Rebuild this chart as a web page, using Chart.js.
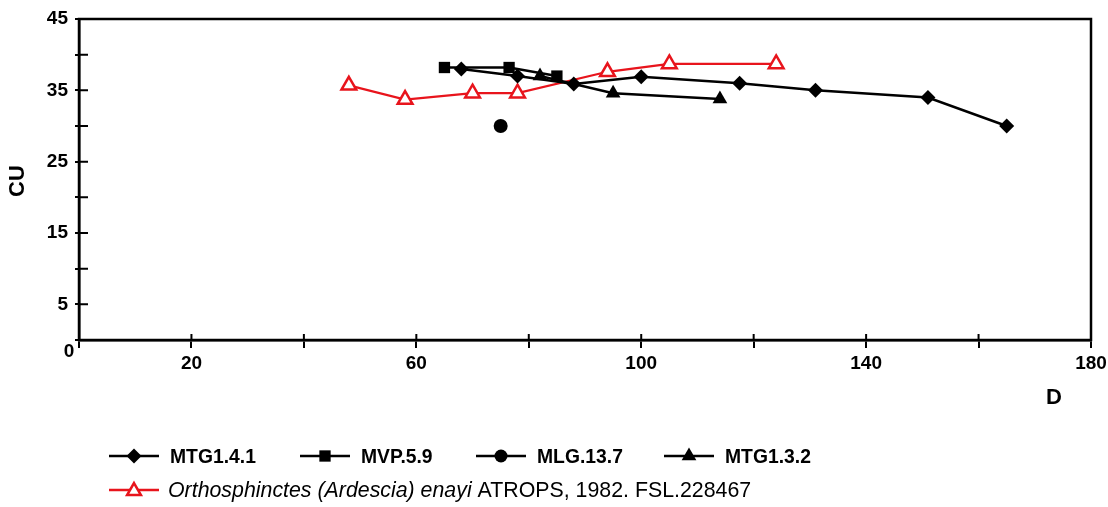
<!DOCTYPE html>
<html>
<head>
<meta charset="utf-8">
<script src="https://cdn.jsdelivr.net/npm/chart.js@4/dist/chart.umd.min.js"></script>
<style>
  html, body { margin: 0; padding: 0; background: #fff; }
  canvas { display: block; }
</style>
</head>
<body>
<canvas id="chart" width="1108" height="507"></canvas>
<script>
// values (D = diameter, CU = coiling)
const mtg141D = [68, 78, 88, 100, 117.5, 131, 151, 165];
const mtg141CU = [38, 37, 35.9, 36.9, 36, 35, 34, 30];
const mvpD = [65, 76.5, 85];
const mvpCU = [38.2, 38.2, 37];
const mlgD = [75];
const mlgCU = [30];
const mtg132D = [82, 95, 114];
const mtg132CU = [37, 34.6, 33.8];
const enayiD = [48, 58, 70, 78, 94, 105, 124];
const enayiCU = [35.7, 33.7, 34.6, 34.6, 37.6, 38.7, 38.7];

const xLabels = [20, 60, 100, 140, 180];
const yLabels = [5, 15, 25, 35, 45];

const FONT = "'Liberation Sans', Arial, sans-serif";

const toPoints = (xs, ys) => xs.map((x, i) => ({ x: x, y: ys[i] }));

// draws a small marker for the legend
function marker(ctx, style, x, y, r, fill, stroke, lw) {
    ctx.beginPath();
    if (style === 'rectRot') {
        ctx.moveTo(x, y - r); ctx.lineTo(x + r, y); ctx.lineTo(x, y + r); ctx.lineTo(x - r, y);
    } else if (style === 'rect') {
        const s = r * Math.SQRT1_2;
        ctx.rect(x - s, y - s, 2 * s, 2 * s);
    } else if (style === 'circle') {
        ctx.arc(x, y, r, 0, Math.PI * 2);
    } else {
        ctx.moveTo(x, y - r);
        ctx.lineTo(x + r * Math.sin(Math.PI / 3), y + r / 2);
        ctx.lineTo(x - r * Math.sin(Math.PI / 3), y + r / 2);
    }
    ctx.closePath();
    if (fill) { ctx.fillStyle = fill; ctx.fill(); }
    if (stroke) { ctx.strokeStyle = stroke; ctx.lineWidth = lw; ctx.stroke(); }
}

const legendRows = [
    { label: 'MTG1.4.1', style: 'rectRot', x: 109, y: 456, r: 7.5 },
    { label: 'MVP.5.9', style: 'rect', x: 300, y: 456, r: 8 },
    { label: 'MLG.13.7', style: 'circle', x: 476, y: 456, r: 6.5 },
    { label: 'MTG1.3.2', style: 'triangle', x: 664, y: 456, r: 8.5 },
];

// condensed text, like the narrow face of the original figure
function narrowText(ctx, text, x, y, sx) {
    ctx.save();
    ctx.translate(x, y);
    ctx.scale(sx, 1);
    ctx.fillText(text, 0, 0);
    ctx.restore();
}

const framePlugin = {
    id: 'frame',
    afterDraw(chart) {
        const ctx = chart.ctx;
        const a = chart.chartArea;
        const xs = chart.scales.x, ys = chart.scales.y;
        ctx.save();
        ctx.strokeStyle = '#000';
        ctx.lineWidth = 2.5;
        ctx.strokeRect(a.left, a.top, a.right - a.left, a.bottom - a.top);

        // inner halves of the tick marks
        ctx.lineWidth = 2;
        ctx.beginPath();
        xs.ticks.forEach(t => {
            const px = xs.getPixelForValue(t.value);
            if (t.value > 0 && t.value < 180) { ctx.moveTo(px, a.bottom); ctx.lineTo(px, a.bottom - 6); }
        });
        ys.ticks.forEach(t => {
            const py = ys.getPixelForValue(t.value);
            if (t.value < 45) { ctx.moveTo(a.left, py); ctx.lineTo(a.left + 9, py); }
        });
        ctx.stroke();

        ctx.fillStyle = '#000';
        ctx.font = 'bold 19px ' + FONT;
        ctx.textAlign = 'center';
        ctx.textBaseline = 'middle';
        ctx.fillText('0', 69, 352);

        // axis titles
        ctx.font = 'bold 22px ' + FONT;
        ctx.fillText('D', 1054, 398);
        ctx.save();
        ctx.translate(18, 181);
        ctx.rotate(-Math.PI / 2);
        ctx.fillText('CU', 0, 0);
        ctx.restore();

        // legend
        ctx.textAlign = 'left';
        ctx.font = 'bold 21px ' + FONT;
        legendRows.forEach(row => {
            ctx.strokeStyle = '#000';
            ctx.lineWidth = 2.5;
            ctx.beginPath();
            ctx.moveTo(row.x, row.y); ctx.lineTo(row.x + 50, row.y);
            ctx.stroke();
            marker(ctx, row.style, row.x + 25, row.y, row.r, '#000', null, 0);
            ctx.fillStyle = '#000';
            narrowText(ctx, row.label, row.x + 61, row.y + 1, 0.92);
        });
        ctx.strokeStyle = '#e8141c';
        ctx.lineWidth = 2.5;
        ctx.beginPath();
        ctx.moveTo(109, 490); ctx.lineTo(159, 490);
        ctx.stroke();
        marker(ctx, 'triangle', 134, 491, 8, '#fff', '#e8141c', 2.5);
        ctx.fillStyle = '#000';
        ctx.font = 'italic 22px ' + FONT;
        const it = 'Orthosphinctes (Ardescia) enayi';
        narrowText(ctx, it, 168, 491, 0.97);
        const w = ctx.measureText(it + ' ').width * 0.97;
        ctx.font = '22px ' + FONT;
        narrowText(ctx, 'ATROPS, 1982. FSL.228467', 168 + w, 491, 0.97);
        ctx.restore();
    }
};

const black = '#000';
const red = '#e8141c';

new Chart(document.getElementById('chart').getContext('2d'), {
    type: 'scatter',
    data: {
        datasets: [
            {
                label: 'MTG1.4.1',
                data: toPoints(mtg141D, mtg141CU),
                showLine: true,
                borderColor: black,
                backgroundColor: black,
                borderWidth: 2.5,
                pointStyle: 'rectRot',
                pointRadius: 7.5,
                pointBorderWidth: 0,
            },
            {
                label: 'MVP.5.9',
                data: toPoints(mvpD, mvpCU),
                showLine: true,
                borderColor: black,
                backgroundColor: black,
                borderWidth: 2.5,
                pointStyle: 'rect',
                pointRadius: 8,
                pointBorderWidth: 0,
            },
            {
                label: 'MLG.13.7',
                data: toPoints(mlgD, mlgCU),
                showLine: true,
                borderColor: black,
                backgroundColor: black,
                borderWidth: 2.5,
                pointStyle: 'circle',
                pointRadius: 7,
                pointBorderWidth: 0,
            },
            {
                label: 'MTG1.3.2',
                data: toPoints(mtg132D, mtg132CU),
                showLine: true,
                borderColor: black,
                backgroundColor: black,
                borderWidth: 2.5,
                pointStyle: 'triangle',
                pointRadius: 8.5,
                pointBorderWidth: 0,
            },
            {
                label: 'Orthosphinctes (Ardescia) enayi ATROPS, 1982. FSL.228467',
                data: toPoints(enayiD, enayiCU),
                showLine: true,
                borderColor: red,
                backgroundColor: red,
                borderWidth: 2.2,
                pointStyle: 'triangle',
                pointRadius: 8.5,
                pointBackgroundColor: '#fff',
                pointBorderColor: red,
                pointBorderWidth: 2.5,
            },
        ],
    },
    options: {
        responsive: false,
        animation: false,
        layout: {
            padding: { top: 19, right: 17, left: 0, bottom: 0 },
        },
        plugins: {
            legend: { display: false },
            tooltip: { enabled: false },
        },
        scales: {
            x: {
                type: 'linear',
                min: 0,
                max: 180,
                afterFit: (scale) => {
                    scale.height = 167;
                    scale.paddingRight = 0;
                    scale.paddingLeft = 0;
                },
                grid: {
                    drawOnChartArea: false,
                    drawTicks: true,
                    tickLength: 8,
                    color: black,
                    lineWidth: 2,
                },
                border: { display: true, color: black, width: 2.5 },
                ticks: {
                    stepSize: 20,
                    autoSkip: false,
                    maxRotation: 0,
                    padding: 4,
                    color: black,
                    font: { family: FONT, size: 19, weight: 'bold' },
                    callback: (v) => xLabels.includes(v) ? String(v) : '',
                },
            },
            y: {
                type: 'linear',
                min: 0,
                max: 45,
                afterFit: (scale) => { scale.width = 79; },
                grid: {
                    drawOnChartArea: false,
                    drawTicks: true,
                    tickLength: 4,
                    color: black,
                    lineWidth: 2,
                },
                border: { display: true, color: black, width: 2.5 },
                ticks: {
                    stepSize: 5,
                    autoSkip: false,
                    padding: 7,
                    color: black,
                    font: { family: FONT, size: 19, weight: 'bold' },
                    callback: (v) => yLabels.includes(v) ? String(v) : '',
                },
            },
        },
    },
    plugins: [framePlugin],
});
</script>
</body>
</html>
